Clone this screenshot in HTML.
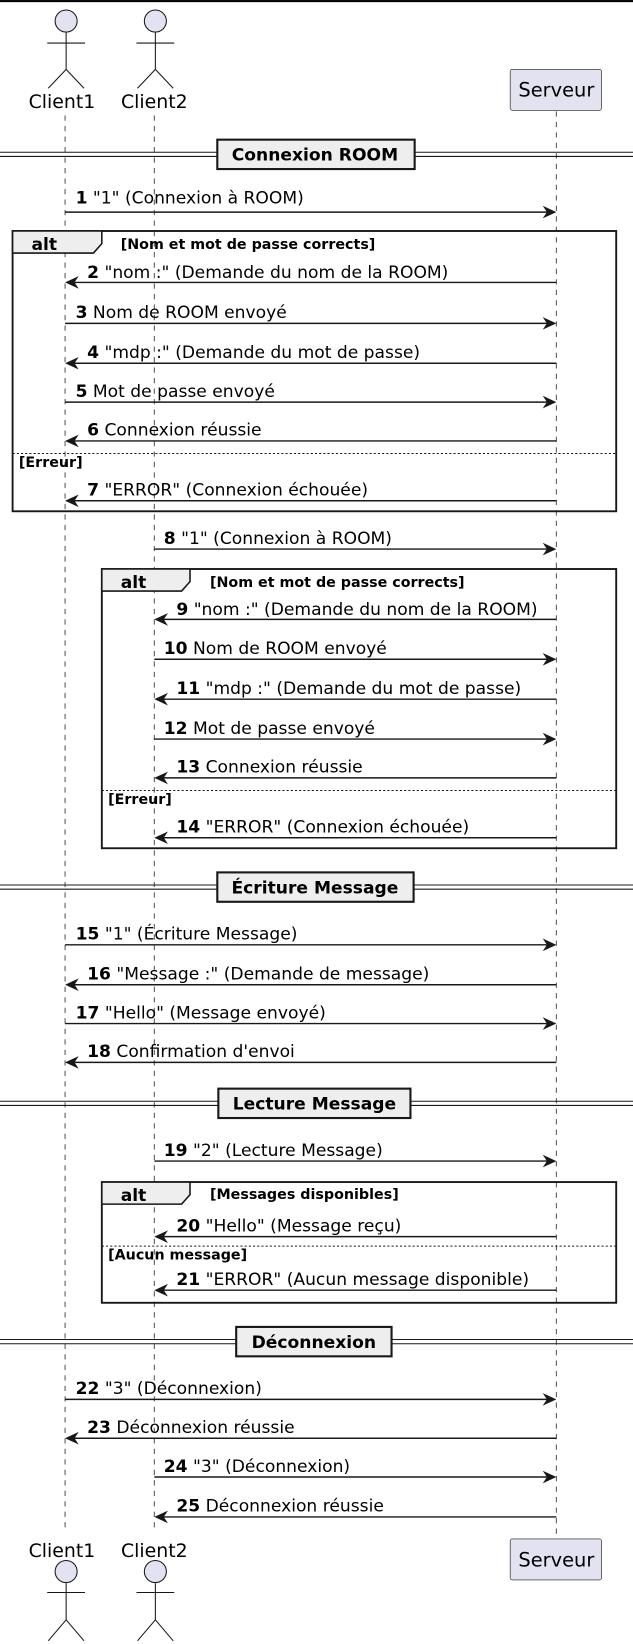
<!DOCTYPE html>
<html><head><meta charset="utf-8"><style>
html,body{margin:0;padding:0;background:#fff}
svg{display:block}
text{font-family:"DejaVu Sans","Liberation Sans",sans-serif;fill:#000}
.m{font-size:16.3px}
.b{font-weight:bold}
.c{font-size:13.6px;font-weight:bold}
.ll{stroke:#555;stroke-width:1;stroke-dasharray:5,5}
.a{stroke:#181818;stroke-width:1.4}
.fr{fill:none;stroke:#181818;stroke-width:1.8}
</style></head><body>
<svg width="633" height="1644" viewBox="0 0 603 1566" xmlns="http://www.w3.org/2000/svg">
<rect x="0" y="0" width="603" height="2" fill="#000"/>
<line class="ll" x1="62" y1="110" x2="62" y2="1458"/>
<line class="ll" x1="147" y1="110" x2="147" y2="1458"/>
<line class="ll" x1="530" y1="106" x2="530" y2="1465"/>
<g stroke="#181818" stroke-width="1" fill="none">
<circle cx="63" cy="20" r="10.5" fill="#E2E2F0"/>
<line x1="63" y1="31" x2="63" y2="66"/><line x1="45" y1="41" x2="81" y2="41"/>
<line x1="63" y1="66" x2="46" y2="84"/><line x1="63" y1="66" x2="80" y2="84"/>
<circle cx="148" cy="20" r="10.5" fill="#E2E2F0"/>
<line x1="148" y1="31" x2="148" y2="66"/><line x1="130" y1="41" x2="166" y2="41"/>
<line x1="148" y1="66" x2="131" y2="84"/><line x1="148" y1="66" x2="165" y2="84"/>
<circle cx="63" cy="1497" r="10.5" fill="#E2E2F0"/>
<line x1="63" y1="1508" x2="63" y2="1543"/><line x1="45" y1="1517" x2="81" y2="1517"/>
<line x1="63" y1="1543" x2="46" y2="1563"/><line x1="63" y1="1543" x2="80" y2="1563"/>
<circle cx="148" cy="1497" r="10.5" fill="#E2E2F0"/>
<line x1="148" y1="1508" x2="148" y2="1543"/><line x1="130" y1="1517" x2="166" y2="1517"/>
<line x1="148" y1="1543" x2="131" y2="1563"/><line x1="148" y1="1543" x2="165" y2="1563"/>
</g>
<text x="59" y="103" text-anchor="middle" font-size="18">Client1</text>
<text x="147" y="103" text-anchor="middle" font-size="18">Client2</text>
<text x="59" y="1483" text-anchor="middle" font-size="18">Client1</text>
<text x="147" y="1483" text-anchor="middle" font-size="18">Client2</text>
<rect x="486" y="66" width="87" height="39" rx="2" fill="#E2E2F0" stroke="#181818" stroke-width="0.6"/>
<text x="530" y="92" text-anchor="middle" font-size="18.5">Serveur</text>
<rect x="486" y="1466" width="87" height="39" rx="2" fill="#E2E2F0" stroke="#181818" stroke-width="0.6"/>
<text x="530" y="1492" text-anchor="middle" font-size="18.5">Serveur</text>

<g stroke="#181818" stroke-width="1">
<line x1="0" y1="145" x2="603" y2="145"/><line x1="0" y1="149" x2="603" y2="149"/>
<line x1="0" y1="843" x2="603" y2="843"/><line x1="0" y1="847" x2="603" y2="847"/>
<line x1="0" y1="1049" x2="603" y2="1049"/><line x1="0" y1="1053" x2="603" y2="1053"/>
<line x1="0" y1="1276" x2="603" y2="1276"/><line x1="0" y1="1280" x2="603" y2="1280"/>
</g>
<g fill="#EEEEEE" stroke="#181818" stroke-width="2">
<rect x="207" y="133" width="188" height="28"/>
<rect x="207" y="831" width="187" height="28"/>
<rect x="208" y="1037" width="183" height="28"/>
<rect x="225" y="1264" width="148" height="28"/>
</g>
<text class="m b" x="300" y="153" text-anchor="middle">Connexion ROOM</text>
<text class="m b" x="300" y="851" text-anchor="middle">Écriture Message</text>
<text class="m b" x="299.5" y="1057" text-anchor="middle">Lecture Message</text>
<text class="m b" x="299" y="1284" text-anchor="middle">Déconnexion</text>

<rect class="fr" x="12" y="220" width="575" height="267"/>
<path d="M12 220 H97 V232 L89 241 H12 Z" fill="#EEEEEE" stroke="#181818" stroke-width="1.5"/>
<text class="m b" x="30" y="238">alt</text>
<text class="c" x="115" y="237">[Nom et mot de passe corrects]</text>
<line x1="12" y1="432" x2="587" y2="432" stroke="#181818" stroke-dasharray="2,2"/>
<text class="c" x="18" y="445">[Erreur]</text>

<rect class="fr" x="97" y="542" width="490" height="266"/>
<path d="M97 542 H181 V554 L173 563 H97 Z" fill="#EEEEEE" stroke="#181818" stroke-width="1.5"/>
<text class="m b" x="115" y="560">alt</text>
<text class="c" x="200" y="559">[Nom et mot de passe corrects]</text>
<line x1="97" y1="753" x2="587" y2="753" stroke="#181818" stroke-dasharray="2,2"/>
<text class="c" x="103" y="766">[Erreur]</text>

<rect class="fr" x="97" y="1126" width="490" height="115"/>
<path d="M97 1126 H181 V1138 L173 1147 H97 Z" fill="#EEEEEE" stroke="#181818" stroke-width="1.5"/>
<text class="m b" x="115" y="1144">alt</text>
<text class="c" x="200" y="1142">[Messages disponibles]</text>
<line x1="97" y1="1187" x2="587" y2="1187" stroke="#181818" stroke-dasharray="2,2"/>
<text class="c" x="103" y="1200">[Aucun message]</text>

<g fill="#181818">
<line class="a" x1="62" y1="202" x2="526" y2="202"/><polygon points="530,202 517,196 521,202 517,208"/>
<line class="a" x1="62" y1="308" x2="526" y2="308"/><polygon points="530,308 517,302 521,308 517,314"/>
<line class="a" x1="62" y1="383" x2="526" y2="383"/><polygon points="530,383 517,377 521,383 517,389"/>
<line class="a" x1="62" y1="900" x2="526" y2="900"/><polygon points="530,900 517,894 521,900 517,906"/>
<line class="a" x1="62" y1="975" x2="526" y2="975"/><polygon points="530,975 517,969 521,975 517,981"/>
<line class="a" x1="62" y1="1333" x2="526" y2="1333"/><polygon points="530,1333 517,1327 521,1333 517,1339"/>
<line class="a" x1="530" y1="269" x2="66" y2="269"/><polygon points="62,269 75,263 71,269 75,275"/>
<line class="a" x1="530" y1="346" x2="66" y2="346"/><polygon points="62,346 75,340 71,346 75,352"/>
<line class="a" x1="530" y1="420" x2="66" y2="420"/><polygon points="62,420 75,414 71,420 75,426"/>
<line class="a" x1="530" y1="477" x2="66" y2="477"/><polygon points="62,477 75,471 71,477 75,483"/>
<line class="a" x1="530" y1="938" x2="66" y2="938"/><polygon points="62,938 75,932 71,938 75,944"/>
<line class="a" x1="530" y1="1012" x2="66" y2="1012"/><polygon points="62,1012 75,1006 71,1012 75,1018"/>
<line class="a" x1="530" y1="1370" x2="66" y2="1370"/><polygon points="62,1370 75,1364 71,1370 75,1376"/>
<line class="a" x1="147" y1="523" x2="526" y2="523"/><polygon points="530,523 517,517 521,523 517,529"/>
<line class="a" x1="147" y1="628" x2="526" y2="628"/><polygon points="530,628 517,622 521,628 517,634"/>
<line class="a" x1="147" y1="704" x2="526" y2="704"/><polygon points="530,704 517,698 521,704 517,710"/>
<line class="a" x1="147" y1="1106" x2="526" y2="1106"/><polygon points="530,1106 517,1100 521,1106 517,1112"/>
<line class="a" x1="147" y1="1407" x2="526" y2="1407"/><polygon points="530,1407 517,1401 521,1407 517,1413"/>
<line class="a" x1="530" y1="590" x2="151" y2="590"/><polygon points="147,590 160,584 156,590 160,596"/>
<line class="a" x1="530" y1="666" x2="151" y2="666"/><polygon points="147,666 160,660 156,666 160,672"/>
<line class="a" x1="530" y1="741" x2="151" y2="741"/><polygon points="147,741 160,735 156,741 160,747"/>
<line class="a" x1="530" y1="798" x2="151" y2="798"/><polygon points="147,798 160,792 156,798 160,804"/>
<line class="a" x1="530" y1="1178" x2="151" y2="1178"/><polygon points="147,1178 160,1172 156,1178 160,1184"/>
<line class="a" x1="530" y1="1229" x2="151" y2="1229"/><polygon points="147,1229 160,1223 156,1229 160,1235"/>
<line class="a" x1="530" y1="1445" x2="151" y2="1445"/><polygon points="147,1445 160,1439 156,1445 160,1451"/>
</g>
<g class="m">
<text x="72" y="194"><tspan class="b">1</tspan> "1" (Connexion à ROOM)</text>
<text x="83" y="265"><tspan class="b">2</tspan> "nom :" (Demande du nom de la ROOM)</text>
<text x="72" y="303"><tspan class="b">3</tspan> Nom de ROOM envoyé</text>
<text x="83" y="341"><tspan class="b">4</tspan> "mdp :" (Demande du mot de passe)</text>
<text x="72" y="378"><tspan class="b">5</tspan> Mot de passe envoyé</text>
<text x="83" y="415"><tspan class="b">6</tspan> Connexion réussie</text>
<text x="83" y="472"><tspan class="b">7</tspan> "ERROR" (Connexion échouée)</text>
<text x="156" y="518"><tspan class="b">8</tspan> "1" (Connexion à ROOM)</text>
<text x="168" y="586"><tspan class="b">9</tspan> "nom :" (Demande du nom de la ROOM)</text>
<text x="156" y="623"><tspan class="b">10</tspan> Nom de ROOM envoyé</text>
<text x="168" y="661"><tspan class="b">11</tspan> "mdp :" (Demande du mot de passe)</text>
<text x="156" y="699"><tspan class="b">12</tspan> Mot de passe envoyé</text>
<text x="168" y="736"><tspan class="b">13</tspan> Connexion réussie</text>
<text x="168" y="793"><tspan class="b">14</tspan> "ERROR" (Connexion échouée)</text>
<text x="72" y="895"><tspan class="b">15</tspan> "1" (Écriture Message)</text>
<text x="83" y="933"><tspan class="b">16</tspan> "Message :" (Demande de message)</text>
<text x="72" y="970"><tspan class="b">17</tspan> "Hello" (Message envoyé)</text>
<text x="83" y="1007"><tspan class="b">18</tspan> Confirmation d'envoi</text>
<text x="156" y="1101"><tspan class="b">19</tspan> "2" (Lecture Message)</text>
<text x="168" y="1173"><tspan class="b">20</tspan> "Hello" (Message reçu)</text>
<text x="168" y="1224"><tspan class="b">21</tspan> "ERROR" (Aucun message disponible)</text>
<text x="72" y="1328"><tspan class="b">22</tspan> "3" (Déconnexion)</text>
<text x="83" y="1365"><tspan class="b">23</tspan> Déconnexion réussie</text>
<text x="156" y="1402"><tspan class="b">24</tspan> "3" (Déconnexion)</text>
<text x="168" y="1440"><tspan class="b">25</tspan> Déconnexion réussie</text>
</g>
</svg>
</body></html>
